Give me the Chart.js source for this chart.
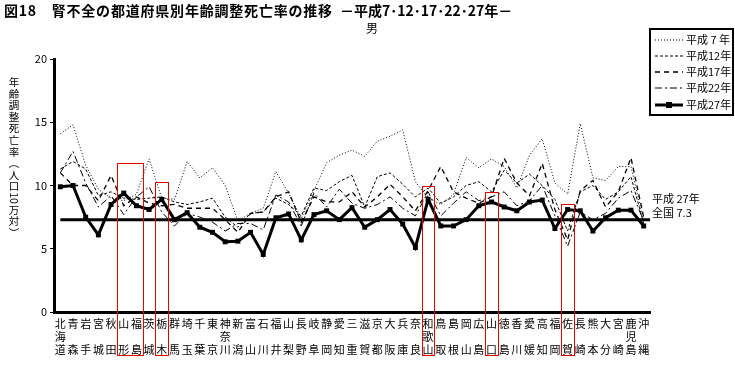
<!DOCTYPE html>
<html>
<head>
<meta charset="utf-8">
<script src="https://cdn.jsdelivr.net/npm/chart.js@4/dist/chart.umd.min.js"></script>
<style>
  body { margin: 0; background: #fff; }
  canvas { display: block; }
</style>
</head>
<body>
<canvas id="chart" width="735" height="369"></canvas>
<script>
(function () {

// ---------------------------------------------------------------- data

var prefectures = ['北海道','青森','岩手','宮城','秋田','山形','福島','茨城','栃木','群馬',
    '埼玉','千葉','東京','神奈川','新潟','富山','石川','福井','山梨','長野',
    '岐阜','静岡','愛知','三重','滋賀','京都','大阪','兵庫','奈良','和歌山',
    '鳥取','島根','岡山','広島','山口','徳島','香川','愛媛','高知','福岡',
    '佐賀','長崎','熊本','大分','宮崎','鹿児島','沖縄'];

var seriesNames = ['平成 7 年', '平成12年', '平成17年', '平成22年', '平成27年'];

var h7  = [14.1, 14.8, 11.6, 9.7, 9.0, 8.8, 9.3, 12.1, 9.0, 8.9, 11.9, 10.6, 11.4, 10.0, 7.2, 7.8, 8.2, 11.1, 9.4, 7.4,
           9.6, 11.8, 12.4, 12.8, 12.3, 13.5, 13.9, 14.4, 10.3, 9.0, 8.5, 9.3, 12.2, 11.4, 12.1, 11.5, 9.8, 12.4, 13.7, 10.2,
           9.3, 14.9, 10.6, 10.4, 11.5, 11.5, 7.2];
var h12 = [11.3, 11.9, 11.3, 9.2, 9.5, 9.0, 8.9, 9.0, 9.1, 8.7, 8.5, 8.7, 9.0, 7.5, 6.7, 7.8, 7.9, 9.0, 8.5, 7.6,
           9.8, 9.6, 10.3, 10.8, 8.3, 10.7, 11.0, 10.1, 9.1, 9.8, 8.6, 9.1, 10.0, 10.3, 9.5, 11.2, 10.2, 10.9, 10.0, 8.9,
           6.4, 9.5, 10.0, 8.9, 9.5, 10.7, 7.0];
var h17 = [11.0, 10.0, 10.0, 8.8, 10.8, 8.4, 9.1, 8.6, 8.4, 8.5, 8.2, 8.2, 8.2, 7.3, 6.3, 7.8, 7.9, 9.1, 9.5, 7.1,
           9.1, 8.7, 8.7, 9.5, 8.3, 9.1, 10.1, 9.1, 8.0, 9.6, 11.5, 9.5, 9.0, 8.6, 9.1, 12.15, 10.2, 9.2, 11.75, 8.1,
           5.7, 9.6, 10.4, 8.3, 9.5, 12.2, 7.5];
var h22 = [11.0, 12.7, 10.2, 8.3, 9.2, 7.7, 9.1, 9.9, 7.9, 6.8, 7.8, 7.5, 7.1, 6.4, 7.0, 7.0, 6.5, 9.25, 8.7, 6.8,
           9.4, 8.3, 9.7, 8.6, 8.2, 8.5, 9.1, 8.2, 7.6, 9.5, 7.6, 8.6, 9.5, 8.8, 9.1, 9.5, 8.4, 8.8, 10.0, 7.6,
           5.2, 7.9, 7.3, 7.8, 9.0, 9.6, 7.2];
var h27 = [9.9, 10.0, 7.5, 6.1, 8.5, 9.4, 8.4, 8.1, 8.9, 7.3, 7.85, 6.7, 6.3, 5.55, 5.6, 6.3, 4.55, 7.45, 7.75, 5.7,
           7.7, 8.0, 7.3, 8.25, 6.7, 7.3, 8.1, 6.95, 5.1, 8.9, 6.8, 6.8, 7.3, 8.4, 8.7, 8.3, 8.0, 8.7, 8.85, 6.6,
           8.1, 8.0, 6.4, 7.45, 8.05, 8.05, 6.8];

var nationalH27 = 7.3;
var yTicks = [0, 5, 10, 15, 20];

// highlighted prefectures (first index, last index, top of box in rate units)
var boxFrom = [5, 8, 29, 34, 40];
var boxTo   = [6, 8, 29, 34, 40];
var boxTop  = [11.8, 10.3, 10.0, 9.5, 8.5];

// ---------------------------------------------------------------- helpers

var FONT = "'Noto Sans CJK JP', 'Noto Sans', sans-serif";

function vertLabel(name) {
    var c = name.split('');
    if (c.length === 2) return [c[0], '', c[1]];
    return c;
}

var styles = [
    { dash: [1, 2],        width: 1 },
    { dash: [3, 2],        width: 1 },
    { dash: [5, 4],        width: 1.3 },
    { dash: [7, 3, 2, 3],  width: 1 },
    { dash: [],            width: 3 }
];
var allSeries = [h7, h12, h17, h22, h27];

var datasets = allSeries.map(function (arr, i) {
    var last = i === 4;
    return {
        label: seriesNames[i],
        data: arr,
        borderColor: '#000',
        backgroundColor: '#000',
        borderWidth: styles[i].width,
        borderDash: styles[i].dash,
        fill: false,
        tension: 0,
        pointStyle: 'rect',
        pointRadius: last ? 3.5 : 0,
        pointBorderWidth: 0,
        pointBackgroundColor: '#000'
    };
});

// ---------------------------------------------------------------- decorations

var decor = {
    id: 'decor',
    afterDatasetsDraw: function (chart) {
        var ctx = chart.ctx, xs = chart.scales.x, ys = chart.scales.y, area = chart.chartArea;
        // national average line
        var yy = ys.getPixelForValue(nationalH27);
        ctx.save();
        ctx.strokeStyle = '#000';
        ctx.lineWidth = 3;
        ctx.beginPath();
        ctx.moveTo(xs.getPixelForValue(0), yy);
        ctx.lineTo(area.right, yy);
        ctx.stroke();
        ctx.restore();
    },
    afterDraw: function (chart) {
        var ctx = chart.ctx, xs = chart.scales.x, ys = chart.scales.y, area = chart.chartArea;
        ctx.save();

        // red boxes
        var half = (xs.getPixelForValue(1) - xs.getPixelForValue(0)) / 2;
        ctx.strokeStyle = '#e00000';
        ctx.lineWidth = 1;
        for (var b = 0; b < boxFrom.length; b++) {
            var x1 = Math.round(xs.getPixelForValue(boxFrom[b]) - half) + 0.5;
            var x2 = Math.round(xs.getPixelForValue(boxTo[b]) + half) + 0.5;
            var y1 = Math.round(ys.getPixelForValue(boxTop[b])) + 0.5;
            var y2 = area.bottom + 43.5;
            ctx.strokeRect(x1, y1, x2 - x1, y2 - y1);
        }

        // title
        ctx.fillStyle = '#000';
        ctx.textBaseline = 'alphabetic';
        ctx.textAlign = 'left';
        ctx.font = 'bold 14px ' + FONT;
        if ('letterSpacing' in ctx) ctx.letterSpacing = '0.8px';
        ctx.fillText('図18　腎不全の都道府県別年齢調整死亡率の推移', 4, 16);
        if ('letterSpacing' in ctx) ctx.letterSpacing = '0px';
        ctx.fillText('－平成7･12･17･22･27年－', 340, 16);
        ctx.font = '12px ' + FONT;
        ctx.textAlign = 'center';
        ctx.fillText('男', 372, 33);

        // y axis title, vertical
        var yt = ['年', '齢', '調', '整', '死', '亡', '率', '︵', '人', '口', '10', '万', '対', '︶'];
        ctx.font = '10.5px ' + FONT;
        ctx.textBaseline = 'middle';
        var ty = 82;
        for (var k = 0; k < yt.length; k++) {
            if (yt[k] === '10') {
                ctx.save();
                ctx.translate(14, ty);
                ctx.rotate(Math.PI / 2);
                ctx.fillText('10', 0, 0);
                ctx.restore();
            } else {
                ctx.fillText(yt[k], 14, ty);
            }
            ty += 11.6;
        }

        // national label on the right
        ctx.textAlign = 'left';
        ctx.font = '11px ' + FONT;
        ctx.fillText('平成 27年', 652, 199);
        ctx.fillText('全国 7.3', 652, 213);

        // legend
        ctx.lineWidth = 2;
        ctx.strokeStyle = '#000';
        ctx.strokeRect(650, 29, 83, 86);
        var ly = [40, 56, 72, 88, 105];
        ctx.font = '11px ' + FONT;
        for (var i = 0; i < datasets.length; i++) {
            ctx.beginPath();
            ctx.setLineDash(styles[i].dash);
            ctx.lineWidth = styles[i].width;
            ctx.moveTo(655, ly[i]);
            ctx.lineTo(683, ly[i]);
            ctx.stroke();
            ctx.setLineDash([]);
            if (i === 4) ctx.fillRect(666, ly[i] - 3, 6, 6);
            ctx.fillText(seriesNames[i], 686, ly[i]);
        }
        ctx.restore();
    }
};

// ---------------------------------------------------------------- chart

var canvas = document.getElementById('chart');
var ctx = canvas.getContext('2d');

new Chart(ctx, {
    type: 'line',
    data: {
        labels: prefectures.map(vertLabel),
        datasets: datasets
    },
    options: {
        responsive: false,
        animation: false,
        layout: { padding: { left: 0, top: 59, right: 85, bottom: 0 } },
        plugins: {
            legend: { display: false },
            tooltip: { enabled: false }
        },
        scales: {
            x: {
                offset: true,
                grid: { display: true, drawOnChartArea: false, drawTicks: false, color: 'rgba(0,0,0,0)' },
                border: { display: true, color: '#000', width: 3 },
                ticks: {
                    autoSkip: false, maxRotation: 0, minRotation: 0, padding: 6,
                    color: '#000',
                    font: { family: FONT, size: 11, lineHeight: 1.14 }
                },
                afterFit: function (s) { s.height = 57; }
            },
            y: {
                min: 0, max: 20,
                afterBuildTicks: function (s) { s.ticks = yTicks.map(function (v) { return { value: v }; }); },
                grid: { drawOnChartArea: false, drawTicks: true, tickLength: 4, color: '#000', lineWidth: 1 },
                border: { display: true, color: '#000', width: 3 },
                ticks: {
                    padding: 3, color: '#000',
                    font: { family: FONT, size: 11 }
                },
                afterFit: function (s) { s.width = 54; }
            }
        }
    },
    plugins: [decor]
});

})();
</script>
</body>
</html>
